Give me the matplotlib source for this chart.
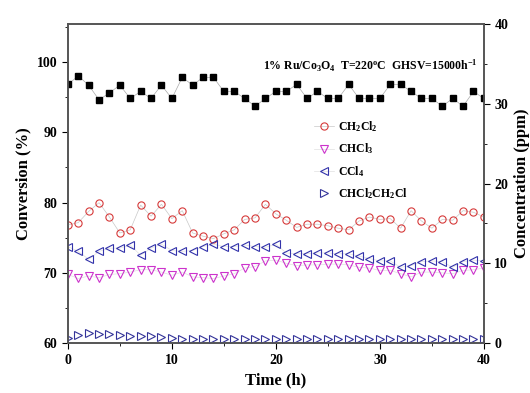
import numpy as np
import matplotlib.pyplot as plt
from matplotlib.ticker import MultipleLocator

plt.rcParams['font.family'] = ['Liberation Serif', 'DejaVu Serif']
plt.rcParams['font.weight'] = 'bold'
plt.rcParams['mathtext.fontset'] = 'custom'
plt.rcParams['mathtext.rm'] = 'Liberation Serif:bold'
plt.rcParams['mathtext.it'] = 'Liberation Serif:bold'
plt.rcParams['mathtext.bf'] = 'Liberation Serif:bold'

time_h = np.arange(0, 41)

# conversion (%) - left axis
conversion = [96.8, 98.0, 96.7, 94.6, 95.6, 96.7, 94.8, 95.8, 94.8, 96.7,
              94.8, 97.8, 96.7, 97.8, 97.8, 95.8, 95.8, 94.8, 93.7, 94.8,
              95.8, 95.8, 96.8, 94.8, 95.8, 94.8, 94.8, 96.8, 94.8, 94.8,
              94.8, 96.8, 96.8, 95.8, 94.8, 94.8, 93.7, 94.8, 93.7, 95.8,
              94.8]

# concentrations (ppm) - right axis
ch2cl2 = [14.8, 15.1, 16.5, 17.6, 15.8, 13.8, 14.2, 17.3, 15.9, 17.4,
          15.6, 16.6, 13.8, 13.4, 13.1, 13.7, 14.2, 15.5, 15.7, 17.4,
          16.2, 15.4, 14.5, 14.9, 14.9, 14.7, 14.4, 14.2, 15.3, 15.8,
          15.5, 15.6, 14.4, 16.6, 15.3, 14.4, 15.5, 15.4, 16.6, 16.4,
          15.8]
chcl3 = [8.6, 8.1, 8.4, 8.2, 8.6, 8.7, 8.9, 9.2, 9.2, 8.9,
         8.5, 8.9, 8.3, 8.2, 8.1, 8.4, 8.7, 9.4, 9.6, 10.3,
         10.4, 10.0, 9.7, 9.8, 9.8, 9.9, 9.9, 9.8, 9.5, 9.4,
         9.1, 9.1, 8.7, 8.3, 8.9, 8.9, 8.8, 8.7, 9.1, 9.2,
         9.4]
ccl4 = [12.1, 11.5, 10.5, 11.5, 11.9, 11.9, 12.3, 11.0, 11.9, 12.4,
        11.6, 11.5, 11.6, 12.1, 12.4, 12.1, 12.1, 12.3, 12.1, 12.0,
        12.4, 11.3, 11.2, 11.2, 11.3, 11.3, 11.2, 11.2, 10.9, 10.6,
        10.3, 10.3, 9.5, 9.7, 10.2, 10.3, 10.2, 9.5, 10.2, 10.4,
        10.3]
chcl2ch2cl = [0.6, 1.0, 1.3, 1.2, 1.2, 1.0, 0.95, 0.9, 0.85, 0.8,
              0.6, 0.55, 0.55, 0.55, 0.55, 0.55, 0.5, 0.5, 0.5, 0.5,
              0.5, 0.5, 0.5, 0.5, 0.5, 0.5, 0.5, 0.5, 0.5, 0.5,
              0.5, 0.5, 0.5, 0.5, 0.5, 0.5, 0.5, 0.5, 0.5, 0.5,
              0.5]

fig = plt.figure(figsize=(5.3, 3.93), dpi=100)
ax = fig.add_axes([0.128, 0.127, 0.785, 0.812])
ax2 = ax.twinx()

ax.plot(time_h, conversion, color='#aaaaaa', marker='s', ms=4.8, lw=0.5,
        mfc='black', mec='black', zorder=3)

ax2.plot(time_h, ch2cl2, color='#c8c8c8', lw=0.5, marker='o', ms=5.2,
         mfc='none', mec='#d63a3a', mew=0.8, label='CH$_2$Cl$_2$')
ax2.plot(time_h, chcl3, color='#e0e0e0', lw=0.5, marker='v', ms=5.8,
         mfc='none', mec='#cc33cc', mew=0.8, label='CHCl$_3$')
ax2.plot(time_h, ccl4, color='#e0e0e0', lw=0.5, marker='<', ms=5.8,
         mfc='none', mec='#3333aa', mew=0.8, label='CCl$_4$')
ax2.plot(time_h, chcl2ch2cl, color='none', lw=0, marker='>', ms=5.8,
         mfc='none', mec='#333399', mew=0.8, label='CHCl$_2$CH$_2$Cl')

ax.set_xlim(0, 40)
ax.set_ylim(60, 105.4)
ax2.set_ylim(0, 40)

ax.xaxis.set_major_locator(MultipleLocator(10))
ax.xaxis.set_minor_locator(MultipleLocator(5))
ax.yaxis.set_major_locator(MultipleLocator(10))
ax.yaxis.set_minor_locator(MultipleLocator(5))
ax2.yaxis.set_major_locator(MultipleLocator(10))
ax2.yaxis.set_minor_locator(MultipleLocator(5))

for a in (ax, ax2):
    a.tick_params(which='both', direction='out', labelsize=10)
    a.tick_params(which='major', length=4)
    a.tick_params(which='minor', length=2.5)
    for s in a.spines.values():
        s.set_color('#555555')
        s.set_linewidth(1.2)

ax.set_xlabel('Time (h)', fontsize=12, fontweight='bold')
ax.set_ylabel('Conversion (%)', fontsize=12, fontweight='bold')
ax2.set_ylabel('Concentration (ppm)', fontsize=12, fontweight='bold')

ax.text(0.47, 0.855, '1% Ru/Co$_3$O$_4$  T=220$^o$C  GHSV=15000h$^{-1}$',
        transform=ax.transAxes, fontsize=8.5, fontweight='bold')

ax2.legend(loc='upper left', bbox_to_anchor=(0.565, 0.735), frameon=False,
           fontsize=8.5, handlelength=1.7, labelspacing=0.65, handletextpad=0.4)

fig.savefig('out.png', dpi=100)
